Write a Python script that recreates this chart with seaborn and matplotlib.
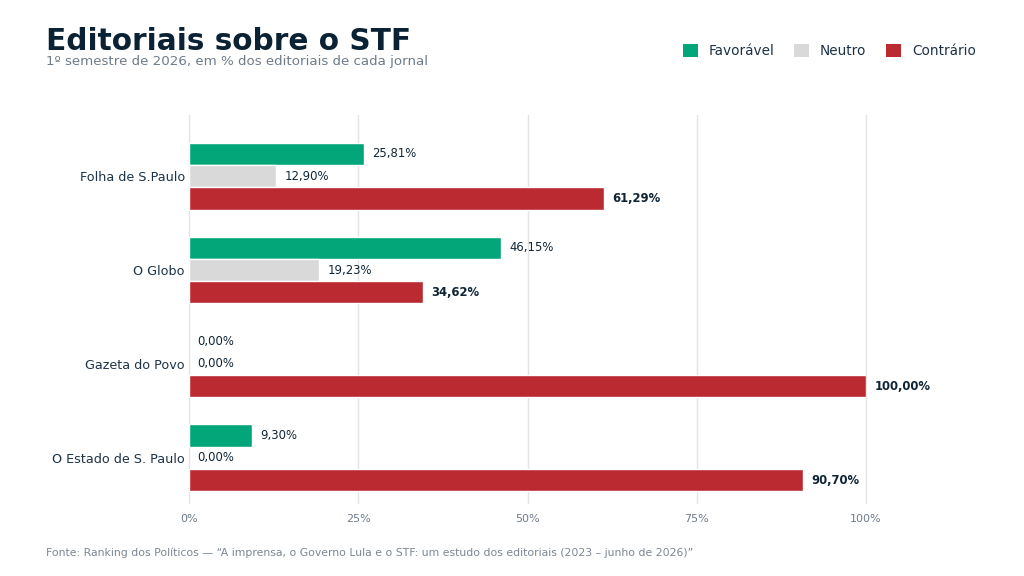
import matplotlib
matplotlib.use("Agg")
import matplotlib.pyplot as plt
import seaborn as sns
import pandas as pd
from matplotlib.patches import Patch
from matplotlib.ticker import FixedLocator, FuncFormatter

jornais = ["Folha de S.Paulo", "O Globo", "Gazeta do Povo", "O Estado de S. Paulo"]
posicoes = ["Favorável", "Neutro", "Contrário"]
favoravel = [25.81, 46.15, 0.00, 9.30]
neutro = [12.90, 19.23, 0.00, 0.00]
contrario = [61.29, 34.62, 100.00, 90.70]
cores = ["#03a678", "#d9d9d9", "#bb2a31"]
xticks = [0, 25, 50, 75, 100]

rows = []
for i, j in enumerate(jornais):
    for p, vals in zip(posicoes, [favoravel, neutro, contrario]):
        rows.append({"Jornal": j, "Posição": p, "Valor": vals[i]})
df = pd.DataFrame(rows)

sns.set_theme(style="white")
plt.rcParams["font.family"] = ["DejaVu Sans"]

DARK = "#0f2536"
GRAY = "#6e7c8a"

fig = plt.figure(figsize=(10.24, 5.76), dpi=100)
ax = fig.add_axes([0.1846, 0.127, 0.6611, 0.673])

sns.barplot(data=df, y="Jornal", x="Valor", hue="Posição", order=jornais,
            hue_order=posicoes, palette=cores, orient="h", width=0.71,
            saturation=1, edgecolor="white", linewidth=1.0, ax=ax, legend=False)

for p in ax.patches:
    if p.get_width() == 0:
        p.set_linewidth(0)

for k, cont in enumerate(ax.containers):
    vals = [favoravel, neutro, contrario][k]
    labels = [f"{v:.2f}%".replace(".", ",") for v in vals]
    ax.bar_label(cont, labels=labels, padding=6, fontsize=8.4, color=DARK,
                 fontweight="bold" if k == 2 else "normal")

ax.set_xlim(0, 100)
ax.set_ylim(3.48, -0.65)
ax.xaxis.set_major_locator(FixedLocator(xticks))
ax.xaxis.set_major_formatter(FuncFormatter(lambda v, p: f"{v:.0f}%"))
ax.grid(axis="x", color="#e4e4e4", linewidth=1)
ax.grid(axis="y", visible=False)
ax.set_axisbelow(True)
for gl in ax.get_xgridlines():
    gl.set_clip_on(False)
for s in ax.spines.values():
    s.set_visible(False)
ax.set_xlabel("")
ax.set_ylabel("")
ax.tick_params(axis="x", colors=GRAY, labelsize=8, length=0, pad=8)
ax.tick_params(axis="y", labelsize=9.2, length=0, pad=3, labelcolor="#1c3347")

fig.text(0.045, 0.913, "Editoriais sobre o STF", fontsize=21.3, fontweight="bold",
         color="#0a2233", ha="left", va="baseline")
fig.text(0.045, 0.905, "1º semestre de 2026, em % dos editoriais de cada jornal",
         fontsize=9.65, color=GRAY, ha="left", va="top")
fig.text(0.045, 0.041,
         "Fonte: Ranking dos Políticos — “A imprensa, o Governo Lula e o STF: um estudo dos editoriais (2023 – junho de 2026)”",
         fontsize=7.8, color="#7a8794", ha="left", va="center")

handles = [Patch(facecolor=c, edgecolor="none", label=p) for c, p in zip(cores, posicoes)]
fig.legend(handles=handles, loc="center right", bbox_to_anchor=(0.965, 0.912),
           ncol=3, frameon=False, fontsize=9.8, handlelength=1.1, handleheight=1.1,
           handletextpad=0.8, columnspacing=1.45, labelcolor="#1c3347")

fig.savefig("out.png", dpi=100)
